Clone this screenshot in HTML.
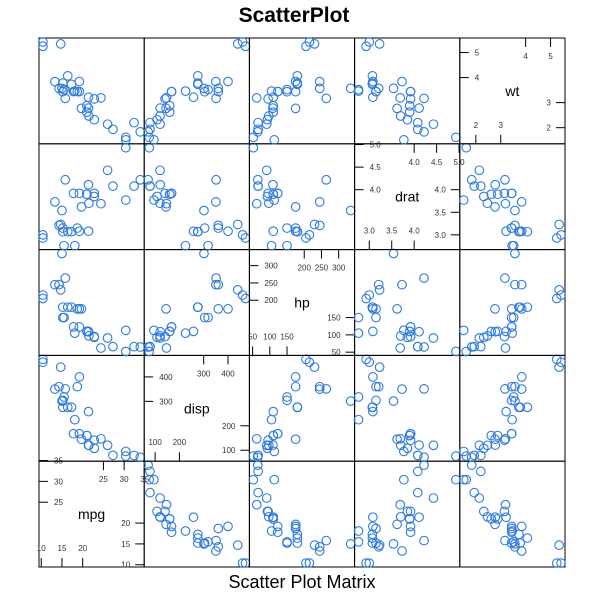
<!DOCTYPE html>
<html><head><meta charset="utf-8"><style>
body{margin:0;background:#fff;}
svg text{font-family:"Liberation Sans",sans-serif;}
</style></head><body>
<svg id="chart" width="589" height="601" xmlns="http://www.w3.org/2000/svg">
<text x="294" y="22" text-anchor="middle" font-size="21" font-weight="bold">ScatterPlot</text>
<text x="302" y="588" text-anchor="middle" font-size="18">Scatter Plot Matrix</text>
<g id="panels"></g>
</svg>
<script>
const varNames = ["mpg","disp","hp","drat","wt"];
const mpg = [21,21,22.8,21.4,18.7,18.1,14.3,24.4,22.8,19.2,17.8,16.4,17.3,15.2,10.4,10.4,14.7,32.4,30.4,33.9,21.5,15.5,15.2,13.3,19.2,27.3,26,30.4,15.8,19.7,15,21.4];
const disp = [160,160,108,258,360,225,360,146.7,140.8,167.6,167.6,275.8,275.8,275.8,472,460,440,78.7,75.7,71.1,120.1,318,304,350,400,79,120.3,95.1,351,145,301,121];
const hp = [110,110,93,110,175,105,245,62,95,123,123,180,180,180,205,215,230,66,52,65,97,150,150,245,175,66,91,113,264,175,335,109];
const drat = [3.9,3.9,3.85,3.08,3.15,2.76,3.21,3.69,3.92,3.92,3.92,3.07,3.07,3.07,2.93,3,3.23,4.08,4.93,4.22,3.7,2.76,3.15,3.73,3.08,4.08,4.43,3.77,4.22,3.62,3.54,4.11];
const wt = [2.62,2.875,2.32,3.215,3.44,3.46,3.57,3.19,3.15,3.44,3.44,4.07,3.73,3.78,5.25,5.424,5.345,2.2,1.615,1.835,2.465,3.52,3.435,3.84,3.845,1.935,2.14,1.513,3.17,2.77,3.57,2.78];
const lowTicks = [[10,15,20],[100,200],[50,100,150],[3.0,3.5,4.0],[2,3]];
const highTicks = [[25,30,35],[300,400],[200,250,300],[4.0,4.5,5.0],[4,5]];
const lowLabels = [["10","15","20"],["100","200"],["50","100","150"],["3.0","3.5","4.0"],["2","3"]];
const highLabels = [["25","30","35"],["300","400"],["200","250","300"],["4.0","4.5","5.0"],["4","5"]];

const data=[mpg,disp,hp,drat,wt];
const NS="http://www.w3.org/2000/svg";
const g=document.getElementById('panels');
const L=39,R=565,T=38,B=567,n=5;
const pw=(R-L)/n, ph=(B-T)/n;
function ext(a){const mn=Math.min(...a),mx=Math.max(...a),d=(mx-mn)*0.04;return [mn-d,mx+d];}
const lims=data.map(ext);
function mk(tag,attrs,parent){const e=document.createElementNS(NS,tag);for(const k in attrs)e.setAttribute(k,attrs[k]);(parent||g).appendChild(e);return e;}
for(let c=0;c<n;c++){for(let r=0;r<n;r++){
  const x0=L+c*pw, y1=B-r*ph, y0=y1-ph;
  const sx=v=>x0+(v-lims[c][0])/(lims[c][1]-lims[c][0])*pw;
  const sy=v=>y1-(v-lims[r][0])/(lims[r][1]-lims[r][0])*ph;
  const rect=mk('rect',{x:x0,y:y0,width:pw,height:ph,fill:'none',stroke:'#000','stroke-width':1});
  
  
  if(c===r){
    const t=mk('text',{x:x0+pw/2,y:y0+ph/2+5,'text-anchor':'middle','font-size':14});
    t.textContent=varNames[c];
    
    
    const sv=v=>(v-lims[c][0])/(lims[c][1]-lims[c][0]);
    lowTicks[c].forEach((v,i)=>{
      const px=x0+sv(v)*pw, py=y1-sv(v)*ph;
      mk('line',{x1:px,y1:y1,x2:px,y2:y1-9,stroke:'#000'});
      let tt=mk('text',{x:px,y:y1-16,'text-anchor':'middle','font-size':8,fill:'#333'});tt.textContent=lowLabels[c][i];
      
      mk('line',{x1:x0+pw,y1:py,x2:x0+pw-9,y2:py,stroke:'#000'});
      tt=mk('text',{x:x0+pw-14,y:py+3,'text-anchor':'end','font-size':8,fill:'#333'});tt.textContent=lowLabels[c][i];
      
    });
    highTicks[c].forEach((v,i)=>{
      const px=x0+sv(v)*pw, py=y1-sv(v)*ph;
      mk('line',{x1:px,y1:y0,x2:px,y2:y0+9,stroke:'#000'});
      let tt=mk('text',{x:px,y:y0+21,'text-anchor':'middle','font-size':8,fill:'#333'});tt.textContent=highLabels[c][i];
      
      mk('line',{x1:x0,y1:py,x2:x0+9,y2:py,stroke:'#000'});
      tt=mk('text',{x:x0+15,y:py+3,'text-anchor':'start','font-size':8,fill:'#333'});tt.textContent=highLabels[c][i];
      
    });
  } else {
    for(let i=0;i<data[c].length;i++){
      const p=mk('circle',{cx:sx(data[c][i]),cy:sy(data[r][i]),r:4.3,fill:'none',stroke:'#2f7ae0','stroke-width':1.1});
      
      
    }
  }
}}
</script>
</body></html>
